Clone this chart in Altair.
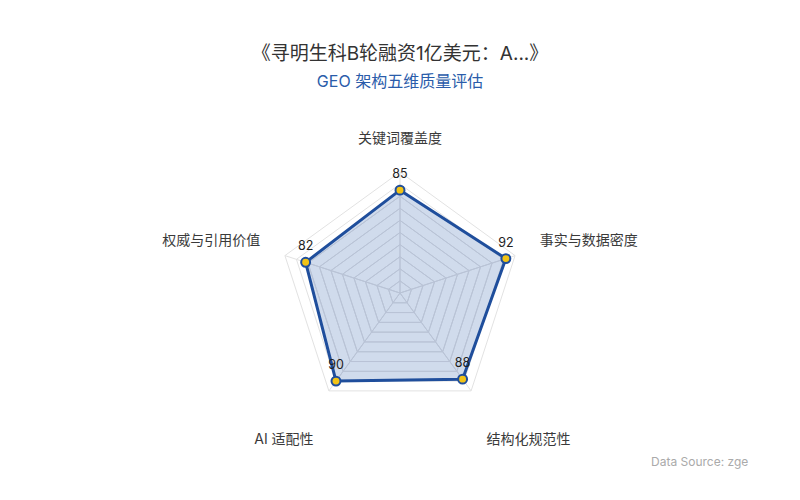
import math
import altair as alt
import pandas as pd

# ---------------- data ----------------
title_text = "《寻明生科B轮融资1亿美元：A...》"
subtitle_text = "GEO 架构五维质量评估"
dimensions = ["关键词覆盖度", "事实与数据密度", "结构化规范性", "AI 适配性", "权威与引用价值"]
scores = [85, 92, 88, 90, 82]
ring_levels = [10, 20, 30, 40, 50, 60, 70, 80, 90, 100]
max_value = 100
source_text = "Data Source: zge"

# ---------------- geometry helpers ----------------
K = 1.21            # pixels per value unit
W, H = 784, 380     # plot area
CY = 185            # radar centre, px from plot top
LABEL_R = 121.5     # radius (value units) of the dimension names
FONT = "Inter, Noto Sans CJK SC, sans-serif"

n = len(dimensions)
angles = [math.radians(90 - 360 / n * i) for i in range(n)]


def polar(r, a):
    return r * math.cos(a), r * math.sin(a)


# radar polygon (closed)
rows = []
for i in range(n + 1):
    j = i % n
    x, y = polar(scores[j], angles[j])
    rows.append({"x": x, "y": y, "order": i, "dim": dimensions[j], "score": scores[j]})
poly = pd.DataFrame(rows)
pts = poly[poly["order"] < n]

# grid rings
ring_rows = []
inner_limit = min(scores)
for lev in ring_levels:
    for i in range(n + 1):
        x, y = polar(lev, angles[i % n])
        ring_rows.append({"x": x, "y": y, "order": i, "level": lev,
                          "inside": lev < inner_limit})
rings = pd.DataFrame(ring_rows)

# spokes (full length, and the part inside the filled polygon)
spokes = pd.DataFrame([
    {"x0": 0.0, "y0": 0.0,
     "x1": polar(max_value, a)[0], "y1": polar(max_value, a)[1],
     "xs": polar(s, a)[0], "ys": polar(s, a)[1]}
    for a, s in zip(angles, scores)
])

# dimension names
lab_rows = []
for d, a in zip(dimensions, angles):
    x, y = polar(LABEL_R, a)
    c = math.cos(a)
    s = math.sin(a)
    side = "center" if abs(c) < 0.1 else ("left" if c > 0 else "right")
    tier = "low" if s < -0.5 else "high"
    lab_rows.append({"x": x, "y": y, "dim": d, "side": side, "tier": tier})
labels = pd.DataFrame(lab_rows)

xs = alt.Scale(domain=[-W / 2 / K, W / 2 / K], nice=False, zero=False)
ys = alt.Scale(domain=[-(H - CY) / K, CY / K], nice=False, zero=False)
X = alt.X("x:Q", scale=xs, axis=None)
Y = alt.Y("y:Q", scale=ys, axis=None)

GRID_OUT = "#e2e2e2"
GRID_IN = "#b9c3d6"

ring_out_layer = alt.Chart(rings).mark_line(
    stroke=GRID_OUT, strokeWidth=1
).encode(x=X, y=Y, order="order:Q", detail="level:N")

spoke_out_layer = alt.Chart(spokes).mark_rule(
    stroke=GRID_OUT, strokeWidth=1
).encode(
    x=alt.X("x0:Q", scale=xs, axis=None),
    y=alt.Y("y0:Q", scale=ys, axis=None),
    x2="x1:Q",
    y2="y1:Q",
)

fill_layer = alt.Chart(poly).mark_line(
    fill="#2a5caa", fillOpacity=0.22, strokeOpacity=0
).encode(x=X, y=Y, order="order:Q")

ring_in_layer = alt.Chart(rings).transform_filter(
    alt.datum.inside
).mark_line(
    stroke=GRID_IN, strokeWidth=1
).encode(x=X, y=Y, order="order:Q", detail="level:N")

spoke_in_layer = alt.Chart(spokes).mark_rule(
    stroke=GRID_IN, strokeWidth=1
).encode(
    x=alt.X("x0:Q", scale=xs, axis=None),
    y=alt.Y("y0:Q", scale=ys, axis=None),
    x2="xs:Q",
    y2="ys:Q",
)

line_layer = alt.Chart(poly).mark_line(
    stroke="#1f4e9c", strokeWidth=3, strokeJoin="round"
).encode(x=X, y=Y, order="order:Q")

point_layer = alt.Chart(pts).mark_point(
    shape="circle", filled=True, fill="#f2c316", stroke="#1f4e9c",
    strokeWidth=2, size=80, opacity=1
).encode(x=X, y=Y)

value_layer = alt.Chart(pts).mark_text(
    dy=-16, fontSize=12.5, color="#222222", font=FONT
).encode(x=X, y=Y, text="score:Q")


def name_layer(side, tier, dy):
    return alt.Chart(labels).transform_filter(
        (alt.datum.side == side) & (alt.datum.tier == tier)
    ).mark_text(
        align=side, baseline="middle", dy=dy, fontSize=14, color="#3a3a3a", font=FONT
    ).encode(x=X, y=Y, text="dim:N")


names = [
    name_layer("center", "high", -7),
    name_layer("left", "high", -7),
    name_layer("right", "high", -7),
    name_layer("left", "low", 28),
    name_layer("right", "low", 28),
]

source_layer = alt.Chart(pd.DataFrame({"t": [source_text]})).mark_text(
    align="left", baseline="middle", fontSize=12, color="#aaaaaa", font=FONT
).encode(x=alt.value(643), y=alt.value(354), text="t:N")

chart = alt.layer(
    ring_out_layer, spoke_out_layer, fill_layer, ring_in_layer, spoke_in_layer,
    line_layer, point_layer, value_layer, *names, source_layer
).properties(
    width=W,
    height=H,
    autosize=alt.AutoSizeParams(type="none"),
    padding={"left": 0, "top": 100, "right": 0, "bottom": 0},
    background="white",
    title=alt.Title(
        text=title_text,
        subtitle=subtitle_text,
        anchor="middle",
        fontSize=19,
        fontWeight="normal",
        color="#333333",
        font=FONT,
        subtitleFont=FONT,
        subtitleFontSize=16,
        subtitleColor="#2a5caa",
        subtitlePadding=10,
        offset=18,
    ),
).configure_view(stroke=None)

chart.save("out.html", embed_options={"renderer": "svg", "actions": False})
